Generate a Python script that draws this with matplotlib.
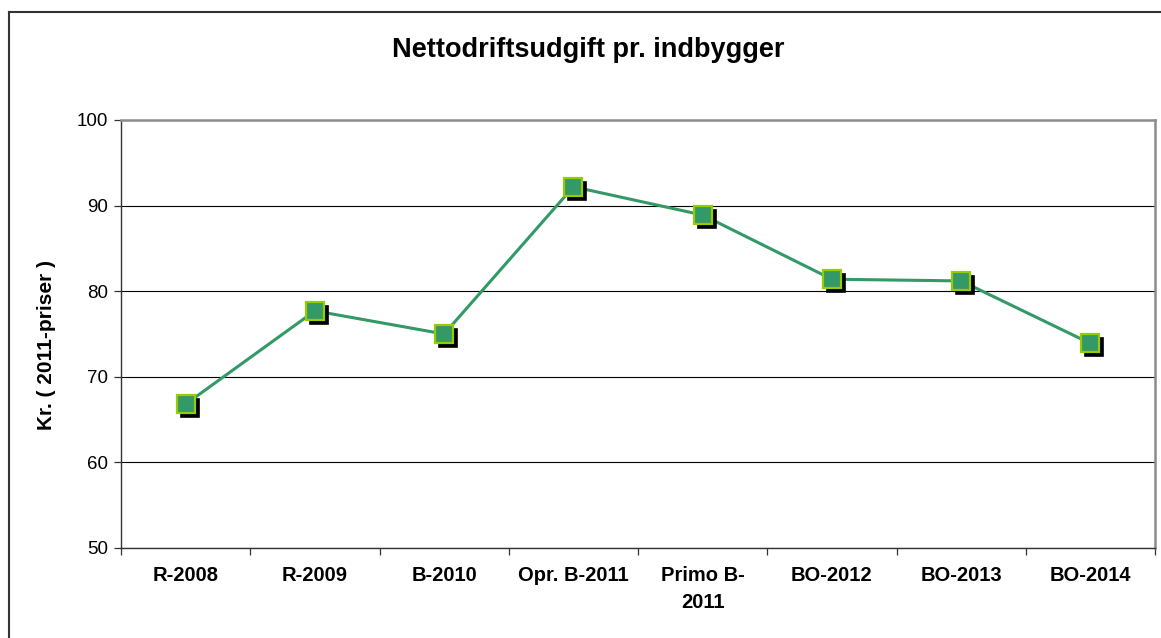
import matplotlib
matplotlib.use("Agg")
import matplotlib.pyplot as plt
from matplotlib.transforms import ScaledTranslation

categories = ["R-2008", "R-2009", "B-2010", "Opr. B-2011", "Primo B-\n2011",
              "BO-2012", "BO-2013", "BO-2014"]
values = [66.8, 77.7, 75.0, 92.2, 88.9, 81.4, 81.2, 73.9]
y_ticks = [50, 60, 70, 80, 90, 100]

plt.rcParams["font.family"] = ["Liberation Sans", "DejaVu Sans"]

W, H, DPI = 1161, 638, 100
fig = plt.figure(figsize=(W / DPI, H / DPI), dpi=DPI)
ax = fig.add_axes([121 / W, 1 - 548 / H, (1155 - 121) / W, (548 - 120) / H])

x = list(range(len(categories)))
line_color = "#339966"

ax.plot(x, values, color=line_color, lw=2.2, zorder=3)

# drop shadow behind each square marker
shadow = ax.transData + ScaledTranslation(4 / DPI, -4 / DPI, fig.dpi_scale_trans)
ax.plot(x, values, ls="none", marker="s", ms=13, mfc="black", mec="black",
        mew=1.2, transform=shadow, zorder=4)
ax.plot(x, values, ls="none", marker="s", ms=13, mfc=line_color, mec="#99CC00",
        mew=1.6, zorder=5)

ax.set_xlim(-0.5, len(categories) - 0.5)
ax.set_ylim(50, 100)
ax.set_yticks(y_ticks)
ax.set_yticklabels([str(v) for v in y_ticks], fontsize=13.5)
ax.yaxis.grid(True, color="black", lw=0.8)
ax.set_axisbelow(True)

ax.set_xticks(x)
ax.set_xticklabels(categories, fontsize=14.5, fontweight="bold", linespacing=1.55)
ax.set_xticks([i + 0.5 for i in range(-1, len(categories))], minor=True)
ax.tick_params(axis="x", which="major", length=0, pad=13)
ax.tick_params(axis="x", which="minor", length=5, width=0.9, color="#333333")
ax.tick_params(axis="y", length=5, width=0.9, color="#333333", pad=4)

for side in ("top", "right"):
    ax.spines[side].set_color("#8c8c8c")
    ax.spines[side].set_linewidth(1.8)
for side in ("left", "bottom"):
    ax.spines[side].set_color("#333333")
    ax.spines[side].set_linewidth(1.0)

ax.set_ylabel("Kr. ( 2011-priser )", fontsize=15, fontweight="bold")
ax.yaxis.set_label_coords(-0.0716, 0.474)
ax.yaxis.label.set_va("center")

fig.text(588 / W, 1 - 50 / H, "Nettodriftsudgift pr. indbygger", ha="center",
         va="center", fontsize=19.5, fontweight="bold")

# outer chart border (left and top edges fall inside the image)
fig.add_artist(plt.Line2D([8.5 / W, 8.5 / W], [0, 1 - 11.5 / H], color="#333333",
                          lw=1.5, transform=fig.transFigure))
fig.add_artist(plt.Line2D([8.5 / W, 1], [1 - 11.5 / H, 1 - 11.5 / H], color="#333333",
                          lw=1.5, transform=fig.transFigure))

fig.savefig("out.png", dpi=DPI)
